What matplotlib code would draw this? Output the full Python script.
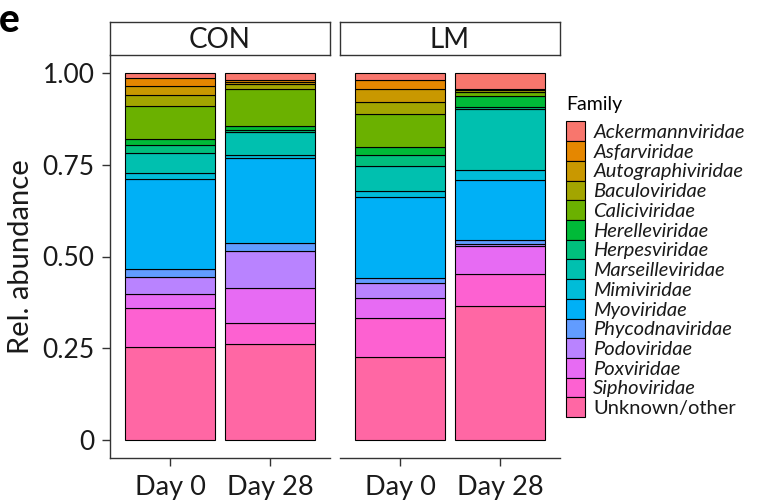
import matplotlib
matplotlib.use("Agg")
import matplotlib.pyplot as plt
from matplotlib.patches import Patch

# families, top of the stack first (ggplot order)
families = [
    "Ackermannviridae", "Asfarviridae", "Autographiviridae", "Baculoviridae",
    "Caliciviridae", "Herelleviridae", "Herpesviridae", "Marseilleviridae",
    "Mimiviridae", "Myoviridae", "Phycodnaviridae", "Podoviridae",
    "Poxviridae", "Siphoviridae", "Unknown/other",
]
colors = [
    "#F8766D", "#E58700", "#C99800", "#A3A500", "#6BB100", "#00BA38", "#00BF7D",
    "#00C0AF", "#00BCD8", "#00B0F6", "#619CFF", "#B983FF", "#E76BF3", "#FD61D1",
    "#FF67A4",
]

groups = ["CON", "LM"]
days = ["Day 0", "Day 28"]

con_day0 = [0.014, 0.022, 0.025, 0.028, 0.090, 0.018, 0.022, 0.055, 0.016,
            0.245, 0.022, 0.045, 0.039, 0.107, 0.253]
con_day28 = [0.018, 0.005, 0.005, 0.016, 0.100, 0.011, 0.005, 0.063, 0.009,
             0.232, 0.021, 0.102, 0.095, 0.057, 0.261]
lm_day0 = [0.017, 0.025, 0.035, 0.033, 0.092, 0.020, 0.031, 0.069, 0.015,
           0.222, 0.014, 0.041, 0.054, 0.107, 0.225]
lm_day28 = [0.042, 0.002, 0.002, 0.006, 0.010, 0.030, 0.005, 0.166, 0.027,
            0.164, 0.011, 0.005, 0.079, 0.086, 0.365]

data = {"CON": [con_day0, con_day28], "LM": [lm_day0, lm_day28]}

plt.rcParams["font.family"] = ["Lato", "DejaVu Sans"]
TXT = "#1a1a1a"
AX = "#333333"

fig = plt.figure(figsize=(7.61, 5.03), dpi=100)
W, H = 761, 503


def fx(px):
    return px / W


def fy(px):
    return 1 - px / H


panel_lefts = [110, 340]
panel_w = 220
top, bottom = 55, 458
strip_top = 22

for gi, g in enumerate(groups):
    left = panel_lefts[gi]
    ax = fig.add_axes([fx(left), fy(bottom), fx(panel_w), (bottom - top) / H])
    for di, vals in enumerate(data[g]):
        base = 0.0
        # bottom of stack = last family
        for fam_i in range(len(families) - 1, -1, -1):
            v = vals[fam_i]
            ax.bar(di + 1, v, bottom=base, width=0.9, color=colors[fam_i],
                   edgecolor="black", linewidth=0.8)
            base += v
    ax.set_xlim(0.4, 2.6)
    ax.set_ylim(-0.05, 1.05)
    ax.set_xticks([1, 2])
    ax.set_xticklabels(days, fontsize=19.5, color=TXT)
    for s in ["top", "right"]:
        ax.spines[s].set_visible(False)
    ax.spines["bottom"].set_color(AX)
    ax.spines["bottom"].set_linewidth(1.0)
    ax.tick_params(axis="x", length=6, width=1.0, color=AX, pad=6)
    if gi == 0:
        ax.set_yticks([0, 0.25, 0.5, 0.75, 1.0])
        ax.set_yticklabels(["0", "0.25", "0.50", "0.75", "1.00"], fontsize=19, color=TXT)
        ax.tick_params(axis="y", length=6, width=1.0, color=AX, pad=5)
        ax.spines["left"].set_color(AX)
        ax.spines["left"].set_linewidth(1.0)
        ax.set_ylabel("Rel. abundance", fontsize=21, color=TXT, labelpad=6)
    else:
        ax.spines["left"].set_visible(False)
        ax.set_yticks([])

    # facet strip
    sax = fig.add_axes([fx(left), fy(top), fx(panel_w), (top - strip_top) / H])
    sax.set_xticks([])
    sax.set_yticks([])
    for s in sax.spines.values():
        s.set_color(AX)
        s.set_linewidth(1.0)
    sax.text(0.5, 0.45, g, ha="center", va="center", fontsize=20, color=TXT,
             transform=sax.transAxes)

# panel label
fig.text(fx(-1), fy(20), "e", fontsize=28, fontweight="black", ha="left", va="center")

handles = [Patch(facecolor=c, edgecolor="black", linewidth=0.8) for c in colors]
leg = fig.legend(handles, families, loc="upper left",
                 bbox_to_anchor=(fx(566), fy(96)), frameon=False,
                 title="Family", title_fontsize=14, fontsize=14.5,
                 handlelength=0.95, handleheight=1.13, labelspacing=0.0,
                 handletextpad=0.4, borderaxespad=0, borderpad=0)
leg._legend_box.align = "left"
leg._legend_box.sep = 6
for t in leg.get_texts():
    if t.get_text() != "Unknown/other":
        t.set_style("italic")
    t.set_color(TXT)

fig.savefig("out.png", dpi=100)
